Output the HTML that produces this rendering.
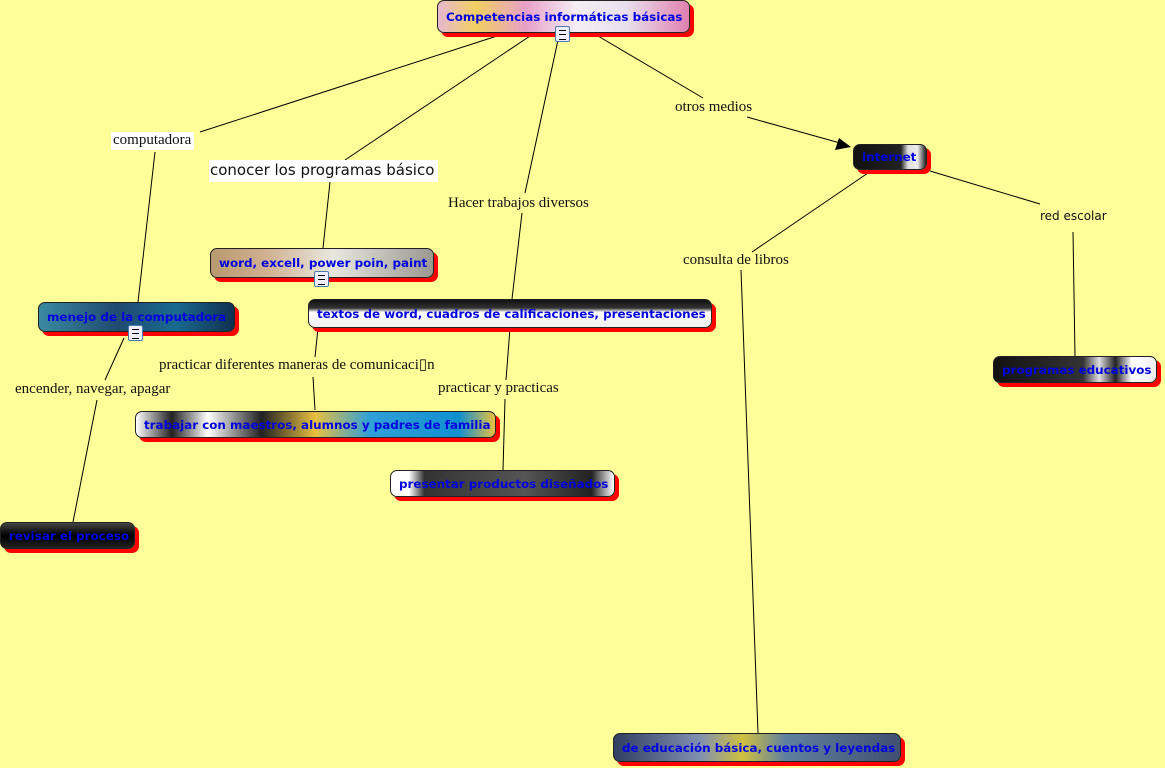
<!DOCTYPE html>
<html><head><meta charset="utf-8"><style>
body{margin:0;width:1165px;height:768px;background:#ffff99;position:relative;overflow:hidden;font-family:"DejaVu Sans","Liberation Sans",sans-serif}
.n{position:absolute;border:1px solid #222;border-radius:7px;box-shadow:4px 4px 0 #f00;color:#0000e0;font-weight:bold;font-size:11.9px;white-space:nowrap;box-sizing:border-box;padding-left:8px;display:flex;align-items:center;overflow:hidden}
.l{position:absolute;font-family:"Liberation Serif",serif;font-size:15px;color:#111;white-space:nowrap;line-height:16px}
.ic{position:absolute;width:15px;height:16px;background:#eef;border:1px solid #4a7ab0;border-radius:2px;box-sizing:border-box}
.ic:after{content:"";position:absolute;left:3px;top:3px;width:7px;height:8px;border-top:1px solid #000;border-bottom:1px solid #000;background:linear-gradient(#000,#000) 0 3px/7px 1px no-repeat}
</style></head><body>
<svg width="1165" height="768" style="position:absolute;left:0;top:0">
<g stroke="#000" stroke-width="1" fill="none">
<line x1="497" y1="36" x2="200" y2="132"/>
<line x1="155" y1="152" x2="138" y2="302"/>
<line x1="530" y1="36" x2="345" y2="160"/>
<line x1="330" y1="182" x2="323" y2="248"/>
<line x1="558" y1="40" x2="525" y2="193"/>
<line x1="522" y1="213" x2="512" y2="299"/>
<line x1="598" y1="36" x2="703" y2="98"/>
<line x1="747" y1="117" x2="840" y2="143"/>
<line x1="868" y1="173" x2="752" y2="252"/>
<line x1="741" y1="270" x2="758" y2="733"/>
<line x1="930" y1="171" x2="1040" y2="204"/>
<line x1="1073" y1="232" x2="1075" y2="356"/>
<line x1="124" y1="338" x2="105" y2="380"/>
<line x1="97" y1="400" x2="73" y2="522"/>
<line x1="318" y1="328" x2="315" y2="357"/>
<line x1="313" y1="377" x2="315" y2="410"/>
<line x1="510" y1="328" x2="506" y2="380"/>
<line x1="505" y1="399" x2="503" y2="470"/>
</g>
<polygon points="851,147 835,150 839,138" fill="#000"/>
</svg>
<div class="n" style="left:437px;top:0;width:253px;height:33px;background:linear-gradient(90deg,#e7b8d0 0%,#f0d060 15%,#e8a0c8 35%,#f4eef4 55%,#e8e0ec 75%,#e080b0 100%)">Competencias informáticas básicas</div>
<div class="n" style="left:853px;top:144px;width:74px;height:26px;background:linear-gradient(90deg,#111 0%,#222 65%,#ddd 75%,#eee 88%,#222 100%)">internet</div>
<div class="n" style="left:210px;top:248px;width:224px;height:30px;background:linear-gradient(90deg,#b89a70 0%,#d0b090 25%,#e8e8e0 55%,#9a9890 100%)">word, excell, power poin, paint</div>
<div class="n" style="left:38px;top:302px;width:197px;height:30px;background:linear-gradient(90deg,#3a8aa0,#204a70 40%,#1a6a90 70%,#103050)">menejo de la computadora</div>
<div class="n" style="left:308px;top:299px;width:404px;height:29px;background:linear-gradient(180deg,#111 0%,#333 30%,#fff 45%,#eee 100%)">textos de word, cuadros de calificaciones, presentaciones</div>
<div class="n" style="left:993px;top:356px;width:164px;height:27px;background:linear-gradient(90deg,#111 0%,#333 55%,#ddd 65%,#222 75%,#fff 85%,#eee 100%)">programas educativos</div>
<div class="n" style="left:135px;top:411px;width:361px;height:27px;background:linear-gradient(90deg,#fff 0%,#222 10%,#fff 20%,#222 35%,#e8c040 50%,#30a0d8 65%,#1090d0 90%,#e8c040 100%)">trabajar con maestros, alumnos y padres de familia</div>
<div class="n" style="left:390px;top:470px;width:225px;height:27px;background:linear-gradient(90deg,#fff 0%,#fff 8%,#333 15%,#555 60%,#222 90%,#fff 100%)">presentar productos diseñados</div>
<div class="n" style="left:0;top:522px;width:135px;height:27px;background:linear-gradient(180deg,#444,#000 50%,#222)">revisar el proceso</div>
<div class="n" style="left:613px;top:733px;width:288px;height:29px;background:linear-gradient(90deg,#304060 0%,#8090b0 30%,#d0c040 45%,#6080a0 60%,#405070 100%)">de educación básica, cuentos y leyendas</div>
<div class="ic" style="left:555px;top:26px"></div>
<div class="ic" style="left:314px;top:271px"></div>
<div class="ic" style="left:128px;top:325px"></div>
<div class="l" style="left:111px;top:132px;background:#fff;padding:0 3px 2px 2px">computadora</div>
<div class="l" style="left:209px;top:160px;background:#fff;font-family:'DejaVu Sans',sans-serif;font-size:15px;padding:0 4px 2px 1px;line-height:20px">conocer los programas básico</div>
<div class="l" style="left:448px;top:195px">Hacer trabajos diversos</div>
<div class="l" style="left:675px;top:99px">otros medios</div>
<div class="l" style="left:683px;top:252px">consulta de libros</div>
<div class="l" style="left:1040px;top:208px;font-family:'DejaVu Sans',sans-serif;font-size:12px">red escolar</div>
<div class="l" style="left:159px;top:357px">practicar diferentes maneras de comunicaci▯n</div>
<div class="l" style="left:15px;top:381px">encender, navegar, apagar</div>
<div class="l" style="left:438px;top:380px">practicar y practicas</div>
</body></html>
